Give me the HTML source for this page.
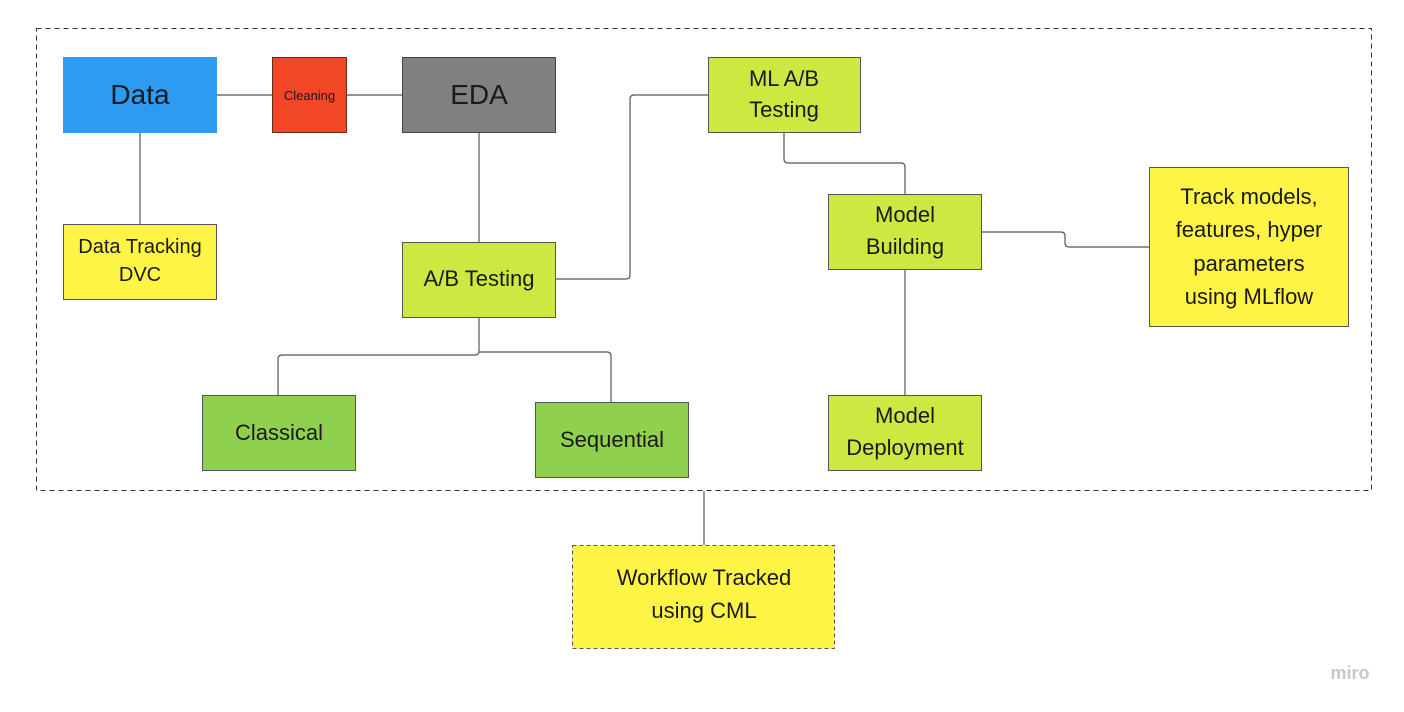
<!DOCTYPE html>
<html><head><meta charset="utf-8"><style>
html,body{margin:0;padding:0;background:#fff;}
svg{display:block;}
text{font-family:"Liberation Sans",sans-serif;fill:#1a1a1a;text-anchor:middle;}
</style></head><body>
<svg width="1404" height="712" viewBox="0 0 1404 712" xmlns="http://www.w3.org/2000/svg">
<rect x="36.5" y="28.5" width="1335" height="462" fill="none" stroke="#333" stroke-width="1" stroke-dasharray="5,4"/>
<g fill="none" stroke="#555" stroke-width="1.2">
<path d="M217 95H272M347 95H402"/>
<path d="M140 133V224"/>
<path d="M479 133V242"/>
<path d="M556 279H626Q630 279 630 275V99Q630 95 634 95H708"/>
<path d="M784 132V159Q784 163 788 163H901Q905 163 905 167V194"/>
<path d="M982 232H1061Q1065 232 1065 236V243Q1065 247 1069 247H1149"/>
<path d="M905 269V395"/>
<path d="M479 317V351Q479 355 475 355H282Q278 355 278 359V395"/>
<path d="M479 352H607Q611 352 611 356V402"/>
<path d="M704 491V545"/>
</g>
<rect x="63" y="57" width="154" height="76" fill="#2d9bf0"/>
<text x="140" y="104" font-size="28">Data</text>
<rect x="272.5" y="57.5" width="74" height="75" fill="#f24726" stroke="#6b2a20"/>
<text x="309.5" y="100" font-size="13">Cleaning</text>
<rect x="402.5" y="57.5" width="153" height="75" fill="#808080" stroke="#444"/>
<text x="479" y="104" font-size="28">EDA</text>
<rect x="63.5" y="224.5" width="153" height="75" fill="#fef445" stroke="#555"/>
<text x="140" y="253" font-size="20">Data Tracking</text>
<text x="140" y="281" font-size="20">DVC</text>
<rect x="402.5" y="242.5" width="153" height="75" fill="#cee741" stroke="#555"/>
<text x="479" y="286" font-size="22">A/B Testing</text>
<rect x="708.5" y="57.5" width="152" height="75" fill="#cee741" stroke="#555"/>
<text x="784" y="86" font-size="22">ML A/B</text>
<text x="784" y="117" font-size="22">Testing</text>
<rect x="828.5" y="194.5" width="153" height="75" fill="#cee741" stroke="#555"/>
<text x="905" y="222" font-size="22">Model</text>
<text x="905" y="254" font-size="22">Building</text>
<rect x="1149.5" y="167.5" width="199" height="159" fill="#fef445" stroke="#555"/>
<text x="1249" y="204" font-size="22">Track models,</text>
<text x="1249" y="237" font-size="22">features, hyper</text>
<text x="1249" y="271" font-size="22">parameters</text>
<text x="1249" y="304" font-size="22">using MLflow</text>
<rect x="828.5" y="395.5" width="153" height="75" fill="#cee741" stroke="#555"/>
<text x="905" y="423" font-size="22">Model</text>
<text x="905" y="455" font-size="22">Deployment</text>
<rect x="202.5" y="395.5" width="153" height="75" fill="#8fd14f" stroke="#555"/>
<text x="279" y="440" font-size="22">Classical</text>
<rect x="535.5" y="402.5" width="153" height="75" fill="#8fd14f" stroke="#555"/>
<text x="612" y="447" font-size="22">Sequential</text>
<rect x="572.5" y="545.5" width="262" height="103" fill="#fef445" stroke="#555" stroke-dasharray="4,3"/>
<text x="704" y="585" font-size="22">Workflow Tracked</text>
<text x="704" y="618" font-size="22">using CML</text>
<text x="1350" y="679" font-size="18" style="fill:#c8c8cc;font-weight:bold">miro</text>
</svg>
</body></html>
